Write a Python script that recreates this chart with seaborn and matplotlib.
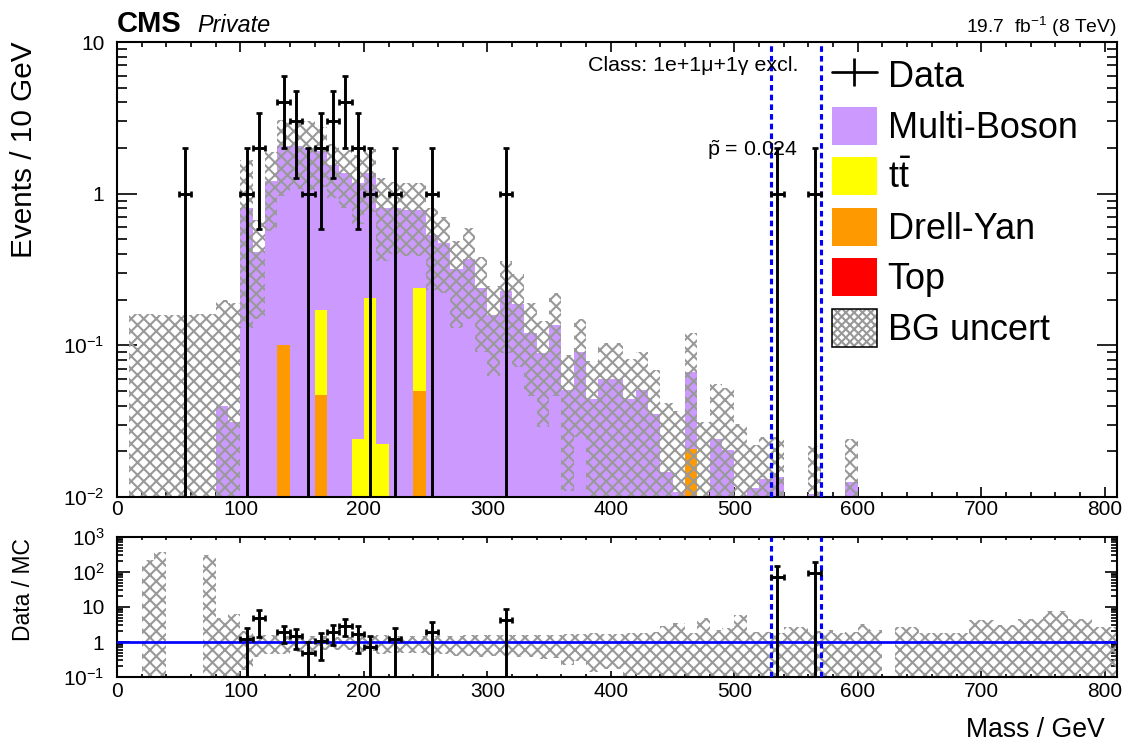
import numpy as np
import pandas as pd
import matplotlib
matplotlib.use("Agg")
import matplotlib.pyplot as plt
import seaborn as sns
from matplotlib.patches import Patch
from matplotlib.lines import Line2D
from matplotlib.legend_handler import HandlerTuple
from matplotlib.ticker import LogLocator, NullFormatter, MultipleLocator

# ---------------- data (10 GeV bins, lower edges 0 ... 800) ----------------
bin_low = list(range(0, 810, 10))

multi_boson = [
    0, 0, 0.00073, 0.00042, 0, 0, 0, 0.00053, 0.040, 0.031,            # 0-90
    0.81, 0.41, 1.22, 1.97, 2.07, 2.0, 1.73, 1.54, 1.36, 1.156,        # 100-190
    1.155, 0.788, 0.80, 0.78, 0.543, 0.53, 0.47, 0.32, 0.37, 0.24,     # 200-290
    0.158, 0.229, 0.187, 0.121, 0.089, 0.136, 0.051, 0.090, 0.044, 0.060,  # 300-390
    0.060, 0.044, 0.051, 0.035, 0.0147, 0.0108, 0.0458, 0.0065, 0.0243, 0.0205,  # 400-490
    0.0051, 0.0115, 0.0132, 0.0136, 0.001, 0.001, 0.0105, 0.001, 0.001, 0.0126,  # 500-590
    0.001, 0.001, 0, 0.001, 0.001, 0.001, 0.001, 0.001, 0.001, 0.001,  # 600-690
    0.001, 0.001, 0.001, 0.001, 0.001, 0.001, 0.001, 0.001, 0.001, 0.001,  # 700-790
    0.001,                                                              # 800
]
ttbar = [0.0] * 81
ttbar[16] = 0.123
ttbar[19] = 0.024
ttbar[20] = 0.205
ttbar[21] = 0.0224
ttbar[24] = 0.187
drell_yan = [0.0] * 81
drell_yan[13] = 0.10
drell_yan[16] = 0.047
drell_yan[24] = 0.050
drell_yan[46] = 0.0207
top = [0.0] * 81

bg_unc_up = [
    0, 0.16, 0.159, 0.157, 0.158, 0.158, 0.16, 0.16, 0.16, 0.159,
    0.85, 0.26, 0.67, 1.0, 1.0, 1.0, 0.86, 0.60, 0.58, 0.62,
    0.60, 0.45, 0.40, 0.39, 0.39, 0.28, 0.23, 0.17, 0.22, 0.14,
    0.089, 0.13, 0.108, 0.069, 0.056, 0.084, 0.036, 0.060, 0.035, 0.044,
    0.044, 0.037, 0.039, 0.0335, 0.027, 0.026, 0.054, 0.0245, 0.031, 0.0315,
    0.025, 0.0105, 0.0118, 0.0114, 0.0016, 0.0016, 0.0111, 0.0012, 0.00077, 0.0114,
    0.0022, 0.0012, 0, 0.00174, 0.00174, 0.00085, 0.00085, 0.0008, 0.0008, 0.00325,
    0.00325, 0.00206, 0.00206, 0.0034, 0.0034, 0.00685, 0.00685, 0.0034, 0.0034, 0.00174,
    0.00174,
]
bg_unc_down = [
    0, 0, 0.00073, 0.00042, 0, 0, 0, 0.00053, 0.038, 0.030,
    0.68, 0.26, 0.65, 1.1, 1.0, 0.95, 0.80, 0.60, 0.55, 0.55,
    0.60, 0.45, 0.40, 0.39, 0.39, 0.30, 0.25, 0.19, 0.22, 0.15,
    0.095, 0.14, 0.115, 0.075, 0.060, 0.090, 0.040, 0.065, 0.038, 0.050,
    0.050, 0.040, 0.045, 0.033, 0.014, 0.0105, 0.063, 0.0062, 0.023, 0.0195,
    0.005, 0.011, 0.0125, 0.013, 0.00095, 0.00095, 0.010, 0.00095, 0.00095, 0.012,
    0.00095, 0.00095, 0, 0.00095, 0.00095, 0.00095, 0.00095, 0.00095, 0.00095, 0.00095,
    0.00095, 0.00095, 0.00095, 0.00095, 0.00095, 0.00095, 0.00095, 0.00095, 0.00095, 0.00095,
    0.00095,
]

data_mass = [55, 105, 115, 135, 145, 155, 165, 175, 185, 195, 205, 225, 255, 315, 535, 565]
data_events = [1, 1, 2, 4, 3, 1, 2, 3, 4, 2, 1, 1, 1, 1, 1, 1]

roi = [530, 570]
p_tilde = "0.024"

processes = ["Multi-Boson", "tt", "Drell-Yan", "Top"]
colors = {"Multi-Boson": "#cc99ff", "tt": "#ffff00", "Drell-Yan": "#ff9900", "Top": "#ff0000"}
hatch_gray = "#999999"

# ---------------- style ----------------
sns.set_theme(style="ticks")
plt.rcParams.update({
    "font.family": ["Liberation Sans", "DejaVu Sans"],
    "mathtext.fontset": "custom",
    "mathtext.rm": "Liberation Sans",
    "mathtext.it": "Liberation Sans:italic",
    "mathtext.bf": "Liberation Sans:bold",
    "hatch.linewidth": 2.0,
    "axes.edgecolor": "black",
    "axes.linewidth": 2.0,
    "xtick.color": "black",
    "ytick.color": "black",
    "text.color": "black",
})

DPI = 75
W, H = 1128, 744
fig = plt.figure(figsize=(W / DPI, H / DPI), dpi=DPI)
fig.patch.set_facecolor("white")


def fx(px):
    return px / W


def fy(py):
    return 1 - py / H


ax = fig.add_axes([fx(117), fy(497), 1000 / W, 455 / H])
rax = fig.add_axes([fx(117), fy(677), 1000 / W, 140 / H])

edges = [float(e) for e in bin_low + [810]]
lows = np.array(bin_low, dtype=float)
mb = np.array(multi_boson)
tt = np.array(ttbar)
dy = np.array(drell_yan)
tp = np.array(top)
mc = mb + tt + dy + tp
up = np.array(bg_unc_up)
dn = np.array(bg_unc_down)

# ---------------- stacked MC via seaborn ----------------
rows = []
for name, vals in zip(processes, [mb, tt, dy, tp]):
    for lo, v in zip(bin_low, vals):
        rows.append({"mass": lo + 5.0, "events": float(v), "process": name})
df = pd.DataFrame(rows)
sns.histplot(data=df, x="mass", weights="events", hue="process", hue_order=processes,
             palette=colors, multiple="stack", bins=edges, element="step", fill=True,
             alpha=1.0, linewidth=0, legend=False, ax=ax, zorder=1)

HATCH = "xx"
# ---------------- uncertainty band (main) ----------------
has_band = up > 0
band_hi = mc + up
band_lo = np.where(mc - dn > 1e-6, mc - dn, 1e-6)
ax.bar(lows[has_band], (band_hi - band_lo)[has_band], bottom=band_lo[has_band], width=10,
       align="edge", fill=False, hatch=HATCH, edgecolor=hatch_gray, linewidth=0, zorder=2)

# ---------------- data (main) ----------------
dm = np.array(data_mass, dtype=float)
dn_ev = np.array(data_events, dtype=float)
err = np.sqrt(dn_ev)
low_edge = np.where(dn_ev - err > 0, dn_ev - err, 1e-9)
ax.errorbar(dm, dn_ev, xerr=5, yerr=[dn_ev - low_edge, err], fmt="none", ecolor="black",
            elinewidth=2.8, capsize=2.6, capthick=2.6, zorder=6)

for x in roi:
    ax.axvline(x, color="#0000ff", lw=3.0, dashes=(1.8, 1.3), zorder=5)
    rax.axvline(x, color="#0000ff", lw=3.0, dashes=(1.8, 1.3), zorder=5)

# ---------------- ratio panel ----------------
ok = mc > 0
r_hi = np.full_like(mc, np.nan)
r_lo = np.full_like(mc, np.nan)
r_hi[ok] = 1 + up[ok] / mc[ok]
r_lo[ok] = np.maximum(1 - dn[ok] / mc[ok], 1e-4)
rb = ok & (up > 0)
rax.bar(lows[rb], (r_hi - r_lo)[rb], bottom=r_lo[rb], width=10, align="edge", fill=False,
        hatch=HATCH, edgecolor=hatch_gray, linewidth=0, zorder=2)
rax.axhline(1, color="#0000ff", lw=2.6, zorder=3)

idx = ((dm - 5) / 10).astype(int)
mc_at = mc[idx]
okd = mc_at > 0
ratio = dn_ev[okd] / mc_at[okd]
rerr = err[okd] / mc_at[okd]
rlow = np.where(ratio - rerr > 0, ratio - rerr, 1e-9)
rax.errorbar(dm[okd], ratio, xerr=5, yerr=[ratio - rlow, rerr], fmt="none", ecolor="black",
             elinewidth=2.8, capsize=2.6, capthick=2.6, zorder=6)

# ---------------- axes cosmetics ----------------
TICK_FS = 20
for a in (ax, rax):
    a.set_xlim(0, 810)
    a.set_yscale("log")
    a.set_xlabel("")
    a.set_ylabel("")
    a.xaxis.set_major_locator(MultipleLocator(100))
    a.xaxis.set_minor_locator(MultipleLocator(20))
    a.tick_params(which="both", direction="in", top=True, right=True, width=1.6,
                  labelsize=TICK_FS, colors="black")
    a.tick_params(axis="y", which="both", pad=12)
    for s in a.spines.values():
        s.set_linewidth(2.0)
        s.set_color("black")
    a.set_facecolor("white")
    a.grid(False)

ax.set_ylim(0.01, 10)
ax.set_yticks([0.01, 0.1, 1, 10], labels=["$10^{-2}$", "$10^{-1}$", "1", "10"])
ax.yaxis.set_minor_locator(LogLocator(base=10, subs=np.arange(2, 10)))
ax.yaxis.set_minor_formatter(NullFormatter())
ax.tick_params(axis="x", which="major", length=10, pad=3)
ax.tick_params(axis="x", which="minor", length=5)
ax.tick_params(axis="y", which="major", length=19)
ax.tick_params(axis="y", which="minor", length=10)

rax.set_ylim(0.1, 1000)
rax.set_yticks([0.1, 1, 10, 100, 1000], labels=["$10^{-1}$", "1", "10", "$10^{2}$", "$10^{3}$"])
rax.yaxis.set_minor_locator(LogLocator(base=10, subs=np.arange(2, 10)))
rax.yaxis.set_minor_formatter(NullFormatter())
rax.tick_params(axis="x", which="major", length=6, pad=5)
rax.tick_params(axis="x", which="minor", length=3)
rax.tick_params(axis="y", which="major", length=12)
rax.tick_params(axis="y", which="minor", length=6)

# ---------------- texts ----------------
fig.text(fx(117), fy(32), "CMS", fontsize=28, fontweight="bold", ha="left", va="baseline")
fig.text(fx(197), fy(32), "Private", fontsize=22.5, style="italic", ha="left", va="baseline")
fig.text(fx(1117), fy(33), "19.7  fb$^{-1}$ (8 TeV)", fontsize=18.5, ha="right", va="baseline")
fig.text(fx(588), fy(71), "Class: 1e+1\u03bc+1\u03b3 excl.", fontsize=20.5, ha="left", va="baseline")
fig.text(fx(707), fy(156), r"$\tilde{\mathrm{p}}$ = " + p_tilde, fontsize=20.5, ha="left", va="baseline")
fig.text(fx(24), fy(41), "Events / 10 GeV", fontsize=28.5, rotation=90, ha="center", va="top")
fig.text(fx(23), fy(538), "Data / MC", fontsize=22, rotation=90, ha="center", va="top")
fig.text(fx(1105), fy(730), "Mass / GeV", fontsize=25.5, ha="right", va="center")

# ---------------- legend ----------------
h_data = Line2D([0], [0], color="black", lw=2.6, marker="|", markersize=27, mew=2.6)
h_mb = Patch(facecolor=colors["Multi-Boson"], edgecolor="none")
h_tt = Patch(facecolor=colors["tt"], edgecolor="none")
h_dy = Patch(facecolor=colors["Drell-Yan"], edgecolor="none")
h_top = Patch(facecolor=colors["Top"], edgecolor="none")
h_unc = (Patch(facecolor="white", hatch="xxx", edgecolor=hatch_gray, lw=0),
         Patch(facecolor="none", edgecolor="black", lw=1.5))
labels = ["Data", "Multi-Boson", r"t$\bar{\mathrm{t}}$", "Drell-Yan", "Top", "BG uncert"]
fig.legend([h_data, h_mb, h_tt, h_dy, h_top, h_unc], labels,
           loc="upper left", bbox_to_anchor=(fx(832), fy(56)), bbox_transform=fig.transFigure,
           frameon=False, fontsize=34.5, handlelength=1.25, handleheight=1.25,
           handletextpad=0.3, labelspacing=0.32, borderpad=0, borderaxespad=0,
           handler_map={tuple: HandlerTuple(ndivide=1, pad=0)})

fig.savefig("out.png", dpi=DPI, facecolor="white")
